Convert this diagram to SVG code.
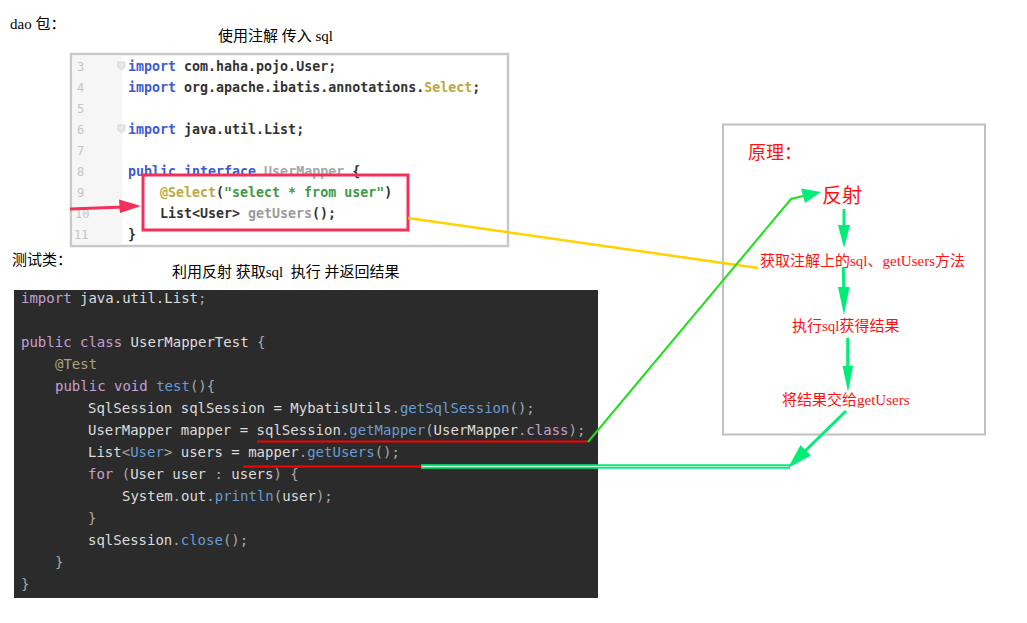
<svg xmlns="http://www.w3.org/2000/svg" width="1027" height="623" viewBox="0 0 1027 623" xml:space="preserve">
<style>
text{white-space:pre}
.lbl{font-family:"Liberation Serif","Noto Sans CJK SC",serif;font-size:15px;fill:#000}
.red{font-family:"Liberation Serif","Noto Sans CJK SC",serif;font-size:15px;fill:#ff1010}
.lc{font-family:"DejaVu Sans Mono","Liberation Mono",monospace;font-size:13.3px;fill:#333;font-weight:bold}
.ln{font-family:"DejaVu Sans Mono","Liberation Mono",monospace;font-size:12px;fill:#c4c4c4}
.dc{font-family:"DejaVu Sans Mono","Liberation Mono",monospace;font-size:14px;fill:#dcdcdc}
.kw{fill:#c3a0d2}
.kb{fill:#3d5ccf}
.mt{fill:#6a9bd2}
.pu{fill:#a8a8a8}
.an{fill:#a9a27e}
.gr{stroke:#00ee77;stroke-width:3;fill:none}
.gh{fill:#00ee77}
</style>

<g id="label-dao"><text class="lbl" x="10" y="29">dao 包：</text></g>
<g id="label-annotation"><text class="lbl" x="218" y="41">使用注解 传入 sql</text></g>

<g id="dao-code">
  <rect x="71" y="54" width="437" height="192" fill="#ffffff" stroke="#c8c8c8" stroke-width="2.5"/>
  <rect x="72.5" y="55.5" width="49.5" height="189" fill="#f6f6f6"/>
  <text class="ln" x="77" y="71">3</text>
  <text class="ln" x="77" y="92">4</text>
  <text class="ln" x="77" y="113">5</text>
  <text class="ln" x="77" y="134">6</text>
  <text class="ln" x="77" y="155">7</text>
  <text class="ln" x="77" y="176">8</text>
  <text class="ln" x="77" y="197">9</text>
  <text class="ln" x="75" y="218">10</text>
  <text class="ln" x="74" y="239">11</text>
  <path d="M118 62h7v5l-3.5 3l-3.5-3z" fill="#e8e8e8" stroke="#cfcfcf" stroke-width="0.8"/>
  <path d="M118 125h7v5l-3.5 3l-3.5-3z" fill="#e8e8e8" stroke="#cfcfcf" stroke-width="0.8"/>
  <text class="lc" x="128" y="71"><tspan class="kb">import</tspan> com.haha.pojo.User;</text>
  <text class="lc" x="128" y="92"><tspan class="kb">import</tspan> org.apache.ibatis.annotations.<tspan fill="#c0a640">Select</tspan>;</text>
  <text class="lc" x="128" y="134"><tspan class="kb">import</tspan> java.util.List;</text>
  <text class="lc" x="128" y="176"><tspan class="kb">public interface</tspan> <tspan fill="#a8a8a8">UserMapper</tspan> {</text>
  <text class="lc" x="160" y="197"><tspan fill="#b8aa40">@Select</tspan>(<tspan fill="#3e9a48">"select * from user"</tspan>)</text>
  <text class="lc" x="160" y="218">List&lt;User&gt; <tspan fill="#9a9a9a">getUsers</tspan>();</text>
  <text class="lc" x="128" y="239">}</text>
  <rect x="143" y="175" width="265" height="55" fill="none" stroke="#f2305a" stroke-width="3"/>
</g>

<g id="label-test"><text class="lbl" x="12" y="265">测试类：</text></g>
<g id="label-reflect"><text class="lbl" x="172" y="277">利用反射 获取sql &#160;执行 并返回结果</text></g>

<g id="test-code">
  <rect x="14" y="290" width="584" height="308" fill="#2b2b2b"/>
  <text class="dc" x="21" y="303"><tspan class="kw">import</tspan> java.util.List<tspan class="pu">;</tspan></text>
  <text class="dc" x="21" y="347"><tspan class="kw">public class</tspan> UserMapperTest <tspan class="pu">{</tspan></text>
  <text class="dc" x="55" y="369"><tspan class="an">@Test</tspan></text>
  <text class="dc" x="55" y="391"><tspan class="kw">public void</tspan> <tspan class="mt">test</tspan><tspan class="pu">(){</tspan></text>
  <text class="dc" x="88" y="413">SqlSession sqlSession = MybatisUtils<tspan class="pu">.</tspan><tspan class="mt">getSqlSession</tspan><tspan class="pu">();</tspan></text>
  <text class="dc" x="88" y="435">UserMapper mapper = sqlSession<tspan class="pu">.</tspan><tspan class="mt">getMapper</tspan><tspan class="pu">(</tspan>UserMapper<tspan class="pu">.</tspan><tspan class="kw">class</tspan><tspan class="pu">);</tspan></text>
  <text class="dc" x="88" y="457">List<tspan class="pu">&lt;</tspan><tspan class="mt">User</tspan><tspan class="pu">&gt;</tspan> users = mapper<tspan class="pu">.</tspan><tspan class="mt">getUsers</tspan><tspan class="pu">();</tspan></text>
  <text class="dc" x="88" y="479"><tspan class="kw">for</tspan> <tspan class="pu">(</tspan>User user <tspan class="pu">:</tspan> users<tspan class="pu">) {</tspan></text>
  <text class="dc" x="122" y="501">System<tspan class="pu">.</tspan>out<tspan class="pu">.</tspan><tspan class="mt">println</tspan><tspan class="pu">(</tspan>user<tspan class="pu">);</tspan></text>
  <text class="dc" x="88" y="523"><tspan class="pu">}</tspan></text>
  <text class="dc" x="88" y="545">sqlSession<tspan class="pu">.</tspan><tspan class="mt">close</tspan><tspan class="pu">();</tspan></text>
  <text class="dc" x="55" y="567"><tspan class="pu">}</tspan></text>
  <text class="dc" x="21" y="589"><tspan class="pu">}</tspan></text>
  <line x1="257" y1="441.5" x2="588" y2="441.5" stroke="#ff0000" stroke-width="2"/>
  <line x1="243" y1="466.5" x2="422" y2="466.5" stroke="#ff0000" stroke-width="2"/>
</g>

<g id="principle">
  <rect x="723" y="124.5" width="262" height="310" fill="#ffffff" stroke="#c0c0c0" stroke-width="2"/>
  <text class="red" x="748" y="159" style="font-size:18px">原理：</text>
</g>
<g id="n-reflect"><text class="red" x="822" y="203" style="font-size:20px">反射</text></g>
<g id="n-get"><text class="red" x="760" y="266">获取注解上的sql、getUsers方法</text></g>
<g id="n-exec"><text class="red" x="792" y="331">执行sql获得结果</text></g>
<g id="n-return"><text class="red" x="782" y="405">将结果交给getUsers</text></g>

<g id="connectors">
  <line x1="70" y1="209" x2="124" y2="207" stroke="#f2305a" stroke-width="3"/>
  <polygon points="119,199.5 141,206 120,213" fill="#f2305a"/>
  <line x1="408" y1="218" x2="758" y2="268" stroke="#ffd200" stroke-width="2.5"/>
  <polyline points="588,442 791,199 803,196" fill="none" stroke="#1ee01e" stroke-width="2"/>
  <polygon points="821,192 801,188.5 805,203" class="gh"/>
  <line x1="844" y1="209" x2="844" y2="228" class="gr"/>
  <polygon points="838,225 850,225 844,248" class="gh"/>
  <line x1="843.3" y1="267" x2="843.8" y2="290" class="gr"/>
  <polygon points="838,287 849.5,287 844,315" class="gh"/>
  <line x1="847.7" y1="338" x2="847.7" y2="369" class="gr"/>
  <polygon points="842.5,366 853,366 848,392" class="gh"/>
  <line x1="846" y1="411" x2="803" y2="453" class="gr"/>
  <polygon points="788,468 800.5,445 811,455.5" class="gh"/>
  <line x1="421" y1="466.5" x2="790" y2="466.5" stroke="#00ee77" stroke-width="4.5"/>
  <line x1="422" y1="466.5" x2="789" y2="466.5" stroke="#b8ffd6" stroke-width="1.2"/>
</g>
</svg>
